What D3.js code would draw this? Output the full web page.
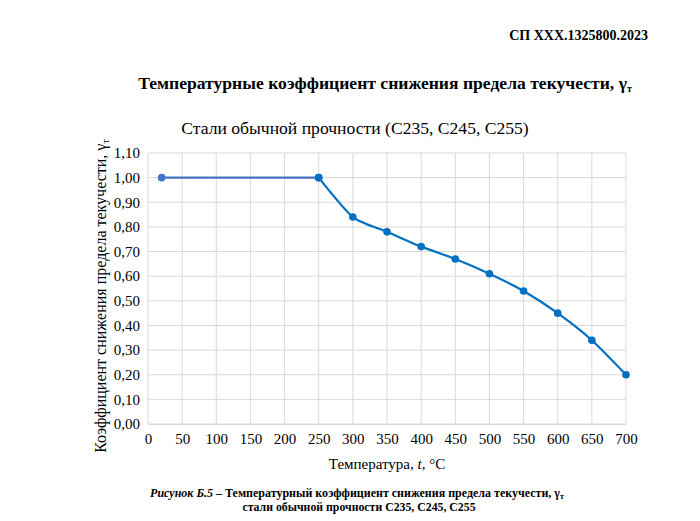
<!DOCTYPE html>
<html>
<head>
<meta charset="utf-8">
<script src="https://cdn.jsdelivr.net/npm/d3@7"></script>
<style>
  body { margin: 0; background: #fff; }
  text { font-family: "Liberation Serif", "Times New Roman", serif; fill: #000; }
</style>
</head>
<body>
<svg id="chart" width="700" height="521"></svg>
<script>
// room temperature segment (first series)
var flatTemps = [20, 250],
    flatValues = [1.00, 1.00];
// reduction segment (second series)
var dropTemps = [250, 300, 350, 400, 450, 500, 550, 600, 650, 700],
    dropValues = [1.00, 0.84, 0.78, 0.72, 0.67, 0.61, 0.54, 0.45, 0.34, 0.20];
var xTicks = [0, 50, 100, 150, 200, 250, 300, 350, 400, 450, 500, 550, 600, 650, 700],
    yTicks = [0, 0.1, 0.2, 0.3, 0.4, 0.5, 0.6, 0.7, 0.8, 0.9, 1.0, 1.1];

var m = {t: 153, r: 74, b: 97, l: 148},
    W = 700, H = 521,
    w = W - m.l - m.r,
    h = H - m.t - m.b;

var svg = d3.select('#chart');

//Header texts
svg.append('text').attr('x', 648).attr('y', 40).attr('text-anchor', 'end')
    .style('font-weight', 'bold').style('font-size', '14px')
    .text('СП XXX.1325800.2023');

var title = svg.append('text').attr('x', 385).attr('y', 89).attr('text-anchor', 'middle')
    .style('font-weight', 'bold').style('font-size', '17.6px');
title.append('tspan').text('Температурные коэффициент снижения предела текучести, γ');
title.append('tspan').attr('dy', 3).style('font-size', '10px').text('т');

svg.append('text').attr('x', 355).attr('y', 134).attr('text-anchor', 'middle')
    .style('font-size', '17.6px')
    .text('Стали обычной прочности (С235, С245, С255)');

//Scales
var scaleX = d3.scaleLinear().domain([0, 700]).range([0, w]);
var scaleY = d3.scaleLinear().domain([0, 1.1]).range([h, 0]);

var plot = svg.append('g').attr('transform', 'translate(' + m.l + ',' + m.t + ')');

//Grid
plot.selectAll('.gx').data(xTicks).enter().append('line')
    .attr('x1', function(d){return scaleX(d);}).attr('x2', function(d){return scaleX(d);})
    .attr('y1', 0).attr('y2', h)
    .style('stroke', '#d9d9d9').style('stroke-width', 1);
plot.selectAll('.gy').data(yTicks).enter().append('line')
    .attr('x1', 0).attr('x2', w)
    .attr('y1', function(d){return scaleY(d);}).attr('y2', function(d){return scaleY(d);})
    .style('stroke', '#d9d9d9').style('stroke-width', 1);

//Axes
var fmt = function(d){return d3.format('.2f')(d).replace('.', ',');};
var axisY = d3.axisLeft(scaleY).tickValues(yTicks).tickFormat(fmt).tickSize(0).tickPadding(8);
var gy = plot.append('g').call(axisY);
gy.select('.domain').remove();
gy.selectAll('text').style('font-size', '15px').style('font-family', '"Liberation Serif", serif');

var axisX = d3.axisBottom(scaleX).tickValues(xTicks).tickSize(0).tickPadding(9);
var gx = plot.append('g').attr('transform', 'translate(0,' + h + ')').call(axisX);
gx.select('.domain').style('stroke', '#d9d9d9');
gx.selectAll('text').style('font-size', '15px').style('font-family', '"Liberation Serif", serif');

//Axis titles
var xl = svg.append('text').attr('x', 387).attr('y', 469).attr('text-anchor', 'middle')
    .style('font-size', '15px');
xl.append('tspan').text('Температура, ');
xl.append('tspan').style('font-style', 'italic').text('t');
xl.append('tspan').text(', °C');

var yl = svg.append('text').attr('transform', 'translate(106,' + 296 + ') rotate(-90)')
    .attr('text-anchor', 'middle').style('font-size', '16px');
yl.append('tspan').text('Коэффициент снижения предела текучести, γ');
yl.append('tspan').attr('dy', 3).style('font-size', '10px').text('т');

//Lines
var flat = flatTemps.map(function(t, i){return [t, flatValues[i]];});
var drop = dropTemps.map(function(t, i){return [t, dropValues[i]];});

var line = d3.line()
    .x(function(d){return scaleX(d[0]);})
    .y(function(d){return scaleY(d[1]);});
var smooth = d3.line()
    .x(function(d){return scaleX(d[0]);})
    .y(function(d){return scaleY(d[1]);})
    .curve(d3.curveCardinal.tension(0.35));

plot.append('path').datum(flat).attr('d', line)
    .style('fill', 'none').style('stroke', '#4472c4').style('stroke-width', 2.2);
plot.append('path').datum(drop).attr('d', smooth)
    .style('fill', 'none').style('stroke', '#0070c0').style('stroke-width', 2.2);

plot.selectAll('.p1').data(flat).enter().append('circle')
    .attr('cx', function(d){return scaleX(d[0]);}).attr('cy', function(d){return scaleY(d[1]);})
    .attr('r', 3.8).style('fill', '#4472c4');
plot.selectAll('.p2').data(drop).enter().append('circle')
    .attr('cx', function(d){return scaleX(d[0]);}).attr('cy', function(d){return scaleY(d[1]);})
    .attr('r', 3.8).style('fill', '#0070c0');

//Caption
var c1 = svg.append('text').attr('x', 357).attr('y', 497).attr('text-anchor', 'middle')
    .style('font-size', '12px').style('font-weight', 'bold');
c1.append('tspan').style('font-style', 'italic').text('Рисунок Б.5');
c1.append('tspan').text(' – Температурный коэффициент снижения предела текучести, γ');
c1.append('tspan').attr('dy', 2).style('font-size', '8px').text('т');
svg.append('text').attr('x', 359).attr('y', 511).attr('text-anchor', 'middle')
    .style('font-size', '11.8px').style('font-weight', 'bold')
    .text('стали обычной прочности С235, С245, С255');
</script>
</body>
</html>
